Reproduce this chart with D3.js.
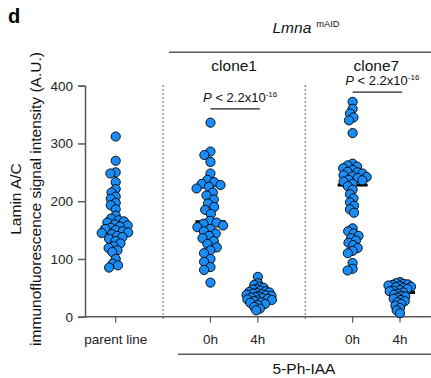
<!DOCTYPE html>
<html lang="en">
<head>
    <script src="https://d3js.org/d3.v7.min.js"></script>
    <style>
        body { margin: 0; background: white; }
        text { font-family: "Liberation Sans", Arial, Helvetica, sans-serif; }
    </style>
</head>
<body>
    <div id="chart"></div>
    <script>
        // values
        const groupLabels = ['parent line', '0h', '4h', '0h', '4h'];
        const groupSlots = [0, 2, 3, 5, 6];
        const cloneNames = ['clone1', 'clone7'];
        const yTicks = [0, 100, 200, 300, 400];

        const parentLine = [312, 270, 250, 248, 233, 221, 215, 208, 204, 197, 193, 186, 175, 170, 167, 165, 163, 160, 158, 156,
            154, 152, 150, 148, 146, 145, 143, 140, 138, 135, 131, 127, 122, 119, 115, 112, 100, 92, 89, 85];
        const clone1_0h = [336, 286, 280, 268, 248, 237, 233, 230, 228, 225, 222, 215, 210, 203, 196, 190, 185, 178, 166, 163,
            161, 158, 155, 152, 148, 144, 140, 136, 131, 126, 120, 115, 110, 100, 95, 86, 81, 59];
        const clone1_4h = [69, 58, 55, 52, 50, 48, 47, 45, 44, 43, 42, 41, 40, 39, 38, 37, 36, 35, 34, 33, 32, 31, 30, 29, 28,
            27, 25, 24, 22, 20, 17, 14, 11];
        const clone7_0h = [372, 360, 352, 345, 340, 318, 265, 262, 260, 257, 254, 251, 250, 248, 245, 243, 242, 240, 237, 236,
            234, 230, 226, 220, 212, 205, 198, 192, 186, 180, 153, 148, 144, 140, 136, 132, 128, 124, 119, 114, 110, 93, 83, 80];
        const clone7_4h = [60, 58, 57, 56, 55, 54, 53, 52, 51, 50, 48, 46, 45, 44, 42, 40, 38, 36, 35, 33, 31, 29, 27, 25, 22,
            19, 15, 11, 6];
        const groups = [parentLine, clone1_0h, clone1_4h, clone7_0h, clone7_4h];

        const pText = 'P';
        const pValue = ' < 2.2x10';
        const pExp = '-16';
        const pLevels = [360, 389];

        const width = 431, height = 378;
        const bleu = '#1a8cf5';
        const gris = '#5a5a5a';

        const svg = d3.select('#chart').append('svg')
            .attr('width', width)
            .attr('height', height);

        const x = d3.scaleLinear().domain([0, 6]).range([115.7, 400]);
        const y = d3.scaleLinear().domain([0, 400]).range([316.7, 85.7]);

        // panel letter
        svg.append('text').attr('x', 8).attr('y', 23)
            .attr('font-size', 20).attr('font-weight', 'bold').text('d');

        // y axis
        const axeY = svg.append('g').attr('transform', 'translate(85,0)')
            .call(d3.axisLeft(y).tickValues(yTicks).tickSize(7).tickPadding(5));
        axeY.select('.domain').attr('stroke', gris).attr('stroke-width', 1.5);
        axeY.selectAll('.tick line').attr('stroke', gris).attr('stroke-width', 1.5);
        axeY.selectAll('.tick text').attr('font-size', 13.5).attr('fill', '#222')
            .style('font-family', '"Liberation Sans", Arial, sans-serif');

        // x axis
        svg.append('line').attr('x1', 85).attr('x2', width)
            .attr('y1', y(0)).attr('y2', y(0))
            .attr('stroke', gris).attr('stroke-width', 1.5);
        groupSlots.forEach((s, i) => {
            svg.append('line').attr('x1', x(s)).attr('x2', x(s))
                .attr('y1', y(0)).attr('y2', y(0) + 6)
                .attr('stroke', gris).attr('stroke-width', 1.2);
            svg.append('text').attr('x', x(s)).attr('y', 344)
                .attr('text-anchor', 'middle').attr('font-size', 13.5).attr('fill', '#222')
                .text(groupLabels[i]);
        });

        // y label
        const labelY = svg.append('text')
            .attr('transform', 'translate(0,199) rotate(-90)')
            .attr('text-anchor', 'middle').attr('font-size', 15.5).attr('fill', '#111');
        labelY.append('tspan').attr('x', 0).attr('y', 21).text('Lamin A/C');
        labelY.append('tspan').attr('x', 0).attr('y', 41).text('immunofluorescence signal intensity (A.U.)');

        // dashed separators
        [1, 4].forEach(s => {
            svg.append('line').attr('x1', x(s)).attr('x2', x(s))
                .attr('y1', 85).attr('y2', 320)
                .attr('stroke', '#666').attr('stroke-width', 1)
                .attr('stroke-dasharray', '2,2');
        });

        // header
        const lmna = svg.append('text').attr('x', 306).attr('y', 33)
            .attr('text-anchor', 'middle').attr('font-size', 15.5).attr('fill', '#111');
        lmna.append('tspan').attr('font-style', 'italic').text('Lmna');
        lmna.append('tspan').attr('dx', 5).attr('dy', -6).attr('font-size', 9.3).text('mAID');
        svg.append('line').attr('x1', 169).attr('x2', width).attr('y1', 52.3).attr('y2', 52.3)
            .attr('stroke', gris).attr('stroke-width', 1.5);

        cloneNames.forEach((nom, k) => {
            const s = groupSlots[1 + 2 * k];
            const mid = (x(s) + x(s + 1)) / 2;
            svg.append('text').attr('x', mid).attr('y', 70.5)
                .attr('text-anchor', 'middle').attr('font-size', 15.5).attr('fill', '#111')
                .text(nom);

            // significance
            const yl = y(pLevels[k]);
            svg.append('line').attr('x1', x(s)).attr('x2', x(s + 1) + 2)
                .attr('y1', yl).attr('y2', yl)
                .attr('stroke', '#222').attr('stroke-width', 1.2);
            const t = svg.append('text').attr('x', mid + 6).attr('y', yl - 7)
                .attr('text-anchor', 'middle').attr('font-size', 13).attr('fill', '#111');
            t.append('tspan').attr('font-style', 'italic').text(pText);
            t.append('tspan').text(pValue);
            t.append('tspan').attr('dy', -5).attr('font-size', 8).text(pExp);
        });

        // bottom treatment line
        svg.append('line').attr('x1', 178).attr('x2', width).attr('y1', 354.3).attr('y2', 354.3)
            .attr('stroke', gris).attr('stroke-width', 1.5);
        svg.append('text').attr('x', 304).attr('y', 374)
            .attr('text-anchor', 'middle').attr('font-size', 15.5).attr('fill', '#111')
            .text('5-Ph-IAA');

        // beeswarm offsets
        function essaim(valeurs, dist) {
            const placed = [];
            const out = [];
            valeurs.forEach(v => {
                const py = y(v);
                const intervals = [];
                placed.forEach(p => {
                    const dy = Math.abs(p.y - py);
                    if (dy < dist) {
                        const w = Math.sqrt(dist * dist - dy * dy);
                        intervals.push([p.x - w, p.x + w]);
                    }
                });
                const candidates = [0];
                intervals.forEach(iv => { candidates.push(iv[0], iv[1]); });
                candidates.sort((a, b) => Math.abs(a) - Math.abs(b));
                let dx = 0;
                for (const c of candidates) {
                    if (!intervals.some(iv => c > iv[0] + 1e-6 && c < iv[1] - 1e-6)) { dx = c; break; }
                }
                placed.push({ x: dx, y: py });
                out.push({ v: v, dx: dx });
            });
            return out;
        }

        // largest spacing that keeps the swarm within +/- demiLargeur
        function essaimSerre(valeurs, demiLargeur) {
            let lo = 1, hi = 7;
            for (let it = 0; it < 20; it++) {
                const m = (lo + hi) / 2;
                const w = d3.max(essaim(valeurs, m), d => Math.abs(d.dx));
                if (w <= demiLargeur) lo = m; else hi = m;
            }
            return essaim(valeurs, lo);
        }

        groups.forEach((vals, i) => {
            const cx = x(groupSlots[i]);
            const med = d3.median(vals);
            svg.append('line').attr('x1', cx - 15).attr('x2', cx + 15)
                .attr('y1', y(med)).attr('y2', y(med))
                .attr('stroke', 'black').attr('stroke-width', 3);

            svg.append('g').selectAll('circle')
                .data(essaimSerre(vals, 14))
                .join('circle')
                .attr('cx', d => cx + d.dx)
                .attr('cy', d => y(d.v))
                .attr('r', 4.6)
                .attr('fill', bleu)
                .attr('stroke', 'black')
                .attr('stroke-width', 0.9);
        });
    </script>
</body>
</html>
